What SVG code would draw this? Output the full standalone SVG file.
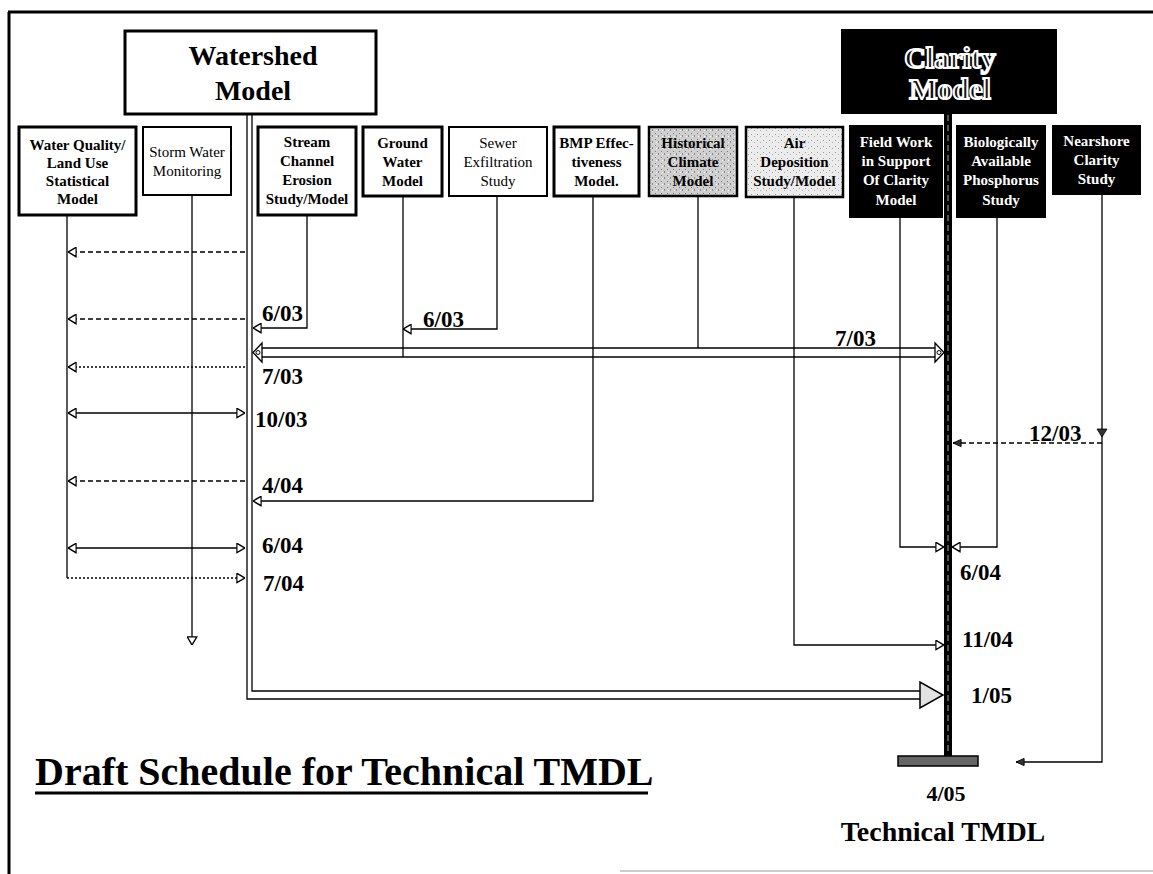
<svg xmlns="http://www.w3.org/2000/svg" width="1153" height="874" viewBox="0 0 1153 874">
<style>
text{font-family:"Liberation Serif","Times New Roman",serif;}
.box{fill:#fff;stroke:#000;stroke-width:3}
.bx2{fill:#fff;stroke:#000;stroke-width:2}
.blk{fill:#000;stroke:#000;stroke-width:2}
.t{font-size:15px;font-weight:bold;text-anchor:middle;fill:#000}
.tr{font-size:15px;text-anchor:middle;fill:#000}
.tw{font-size:15px;font-weight:bold;text-anchor:middle;fill:#fff}
.big{font-size:28px;font-weight:bold;text-anchor:middle}
.d{font-size:23px;font-weight:bold;fill:#000}
.ln{fill:none;stroke:#000;stroke-width:1.3}
.dash{stroke-dasharray:5 3}
.dot{stroke-dasharray:2 2}
.ha{fill:#fff;stroke:#000;stroke-width:1.3}
</style>
<defs>
<marker id="ah" viewBox="0 0 10 10" refX="10" refY="5" markerWidth="9" markerHeight="11" markerUnits="userSpaceOnUse" orient="auto-start-reverse" preserveAspectRatio="none">
<path d="M1,0.7 L10,5 L1,9.3 z" fill="#fff" stroke="#000" stroke-width="1.3"/>
</marker>
<marker id="af" viewBox="0 0 10 10" refX="10" refY="5" markerWidth="9" markerHeight="9" markerUnits="userSpaceOnUse" orient="auto-start-reverse" preserveAspectRatio="none">
<path d="M1,1 L10,5 L1,9 z" fill="#333" stroke="#000" stroke-width="1"/>
</marker>
<pattern id="st1" width="6" height="6" patternUnits="userSpaceOnUse">
<rect width="6" height="6" fill="#cfcfcf"/>
<rect x="1" y="1" width="1" height="1" fill="#7a7a7a"/>
<rect x="4" y="3" width="1" height="2" fill="#8a8a8a"/>
<rect x="2" y="4" width="1" height="1" fill="#fff"/>
</pattern>
<pattern id="st2" width="6" height="6" patternUnits="userSpaceOnUse">
<rect width="6" height="6" fill="#ececec"/>
<rect x="1" y="2" width="1" height="1" fill="#999"/>
<rect x="4" y="4" width="1" height="1" fill="#aaa"/>
</pattern>
</defs>
<rect width="1153" height="874" fill="#fff"/>
<g id="frame" fill="none" stroke="#000">
<path d="M8,12 H1153" stroke-width="3"/>
<path d="M9,12 V874" stroke-width="3"/>
<path d="M620,871 H1153" stroke="#999" stroke-width="1"/>
</g>

<g id="connectors">
<path class="ln" d="M247,114 V699 H920" stroke-width="1.5"/>
<path class="ln" d="M252,114 V691 H920" stroke-width="1.5"/>
<polygon points="920,691 920,682 943,695 920,708 920,699" fill="#e2e2e2" stroke="#000" stroke-width="1.5"/>
<path class="ln" d="M67,215 V578"/>
<path class="ln dot" d="M67,578 H245" marker-end="url(#ah)"/>
<path class="ln dash" d="M245,252 H68" marker-end="url(#ah)"/>
<path class="ln dash" d="M245,319 H68" marker-end="url(#ah)"/>
<path class="ln dot" d="M245,367 H68" marker-end="url(#ah)"/>
<path class="ln" d="M68,413 H245" marker-start="url(#ah)" marker-end="url(#ah)"/>
<path class="ln dash" d="M245,481 H68" marker-end="url(#ah)"/>
<path class="ln" d="M68,548 H245" marker-start="url(#ah)" marker-end="url(#ah)"/>
<path class="ln" d="M192,195 V645" stroke-width="1" marker-end="url(#ah)"/>
<path class="ln" d="M307,215 V328 H253" marker-end="url(#ah)"/>
<path class="ln" d="M497,196 V329 H403" marker-end="url(#ah)"/>
<path class="ln" d="M593,196 V501 H253" marker-end="url(#ah)"/>
<path class="ln" d="M403,196 V357" stroke-width="1.5"/>
<path class="ln" d="M698,196 V348" stroke-width="1.5"/>
<path class="ln" d="M262,348 H935" stroke-width="1.5"/>
<path class="ln" d="M262,357 H935" stroke-width="1.5"/>
<polygon class="ha" points="262,343 253,352.5 262,362"/>
<polygon class="ha" points="935,343 944,352.5 935,362"/>
<circle cx="258" cy="352.5" r="2" fill="#fff" stroke="#000" stroke-width="1"/>
<circle cx="939" cy="352.5" r="2" fill="#fff" stroke="#000" stroke-width="1"/>
<rect x="944" y="113" width="8" height="647" fill="#000"/>
<path d="M948,115 V758" stroke="#aaa" stroke-width="1" stroke-dasharray="6 4"/>
<path class="ln" d="M900,217 V547 H944" marker-end="url(#ah)"/>
<path class="ln" d="M997,217 V547 H952" marker-end="url(#ah)"/>
<path class="ln" d="M794,197 V645 H944" marker-end="url(#ah)"/>
<path class="ln" d="M1102,194 V762 H1016" marker-end="url(#af)"/>
<path class="ln dash" d="M1102,443 H953" marker-end="url(#af)"/>
<polygon points="1097,429 1107,429 1102,437" fill="#333" stroke="#000" stroke-width="0.8"/>
<rect x="898" y="756" width="80" height="10" fill="#666" stroke="#000" stroke-width="1.5"/>
</g>

<g id="watershed">
<rect class="box" x="125" y="31" width="251" height="83"/>
<text class="big" x="253" y="65">Watershed</text>
<text class="big" x="253" y="100">Model</text>
</g>
<g id="clarity">
<rect class="blk" x="842" y="30" width="214" height="83"/>
<text class="big" x="950" y="68" style="font-size:30px" fill="#111" stroke="#fff" stroke-width="2">Clarity</text>
<text class="big" x="950" y="99" style="font-size:30px" fill="#111" stroke="#fff" stroke-width="2">Model</text>
</g>
<g id="waterquality">
<rect class="box" x="19" y="127" width="117" height="88"/>
<text class="t" x="77.5" y="150">Water Quality/</text>
<text class="t" x="77.5" y="168">Land Use</text>
<text class="t" x="77.5" y="186">Statistical</text>
<text class="t" x="77.5" y="204">Model</text>
</g>
<g id="stormwater">
<rect class="bx2" x="143" y="127" width="88" height="68"/>
<text class="tr" x="187" y="157">Storm Water</text>
<text class="tr" x="187" y="176">Monitoring</text>
</g>
<g id="streamchannel">
<rect class="box" x="258" y="127" width="98" height="88"/>
<text class="t" x="307" y="147">Stream</text>
<text class="t" x="307" y="166">Channel</text>
<text class="t" x="307" y="185">Erosion</text>
<text class="t" x="307" y="204">Study/Model</text>
</g>
<g id="groundwater">
<rect class="box" x="363" y="127" width="79" height="69" stroke-width="2.5"/>
<text class="t" x="402.5" y="148">Ground</text>
<text class="t" x="402.5" y="167">Water</text>
<text class="t" x="402.5" y="186">Model</text>
</g>
<g id="sewer">
<rect class="bx2" x="449" y="127" width="98" height="69"/>
<text class="tr" x="498" y="148">Sewer</text>
<text class="tr" x="498" y="167">Exfiltration</text>
<text class="tr" x="498" y="186">Study</text>
</g>
<g id="bmp">
<rect class="box" x="554" y="127" width="85" height="69" stroke-width="2.5"/>
<text class="t" x="596.5" y="148">BMP Effec-</text>
<text class="t" x="596.5" y="167">tiveness</text>
<text class="t" x="596.5" y="186">Model.</text>
</g>
<g id="historical">
<rect x="649" y="127" width="88" height="69" fill="url(#st1)" stroke="#000" stroke-width="2.5"/>
<text class="t" x="693" y="148">Historical</text>
<text class="t" x="693" y="167">Climate</text>
<text class="t" x="693" y="186">Model</text>
</g>
<g id="airdeposition">
<rect x="746" y="127" width="97" height="70" fill="url(#st2)" stroke="#000" stroke-width="2.5"/>
<text class="t" x="794.5" y="148">Air</text>
<text class="t" x="794.5" y="167">Deposition</text>
<text class="t" x="794.5" y="186">Study/Model</text>
</g>
<g id="fieldwork">
<rect class="blk" x="850" y="126" width="92" height="91"/>
<text class="tw" x="896" y="147">Field Work</text>
<text class="tw" x="896" y="166">in Support</text>
<text class="tw" x="896" y="185">Of Clarity</text>
<text class="tw" x="896" y="205">Model</text>
</g>
<g id="biophosphorus">
<rect class="blk" x="957" y="126" width="88" height="91"/>
<text class="tw" x="1001" y="147">Biologically</text>
<text class="tw" x="1001" y="166">Available</text>
<text class="tw" x="1001" y="185">Phosphorus</text>
<text class="tw" x="1001" y="205">Study</text>
</g>
<g id="nearshore">
<rect class="blk" x="1053" y="126" width="87" height="68"/>
<text class="tw" x="1096.5" y="146">Nearshore</text>
<text class="tw" x="1096.5" y="165">Clarity</text>
<text class="tw" x="1096.5" y="184">Study</text>
</g>

<g id="dates">
<text class="d" x="262" y="321">6/03</text>
<text class="d" x="262" y="384">7/03</text>
<text class="d" x="255" y="427">10/03</text>
<text class="d" x="262" y="493">4/04</text>
<text class="d" x="262" y="553">6/04</text>
<text class="d" x="263" y="591">7/04</text>
<text class="d" x="423" y="327">6/03</text>
<text class="d" x="835" y="346">7/03</text>
<text class="d" x="1029" y="441">12/03</text>
<text class="d" x="960" y="580">6/04</text>
<text class="d" x="962" y="647">11/04</text>
<text class="d" x="971" y="703">1/05</text>
</g>
<g id="tmdl">
<text class="d" x="946" y="801" text-anchor="middle" style="font-size:22px">4/05</text>
<text class="d" x="943" y="841" text-anchor="middle" style="font-size:28px">Technical TMDL</text>
</g>
<g id="title">
<text x="35" y="785" font-size="40" font-weight="bold" fill="#000">Draft Schedule for Technical TMDL</text>
<path d="M35,793 H648" stroke="#000" stroke-width="3"/>
</g>
</svg>
